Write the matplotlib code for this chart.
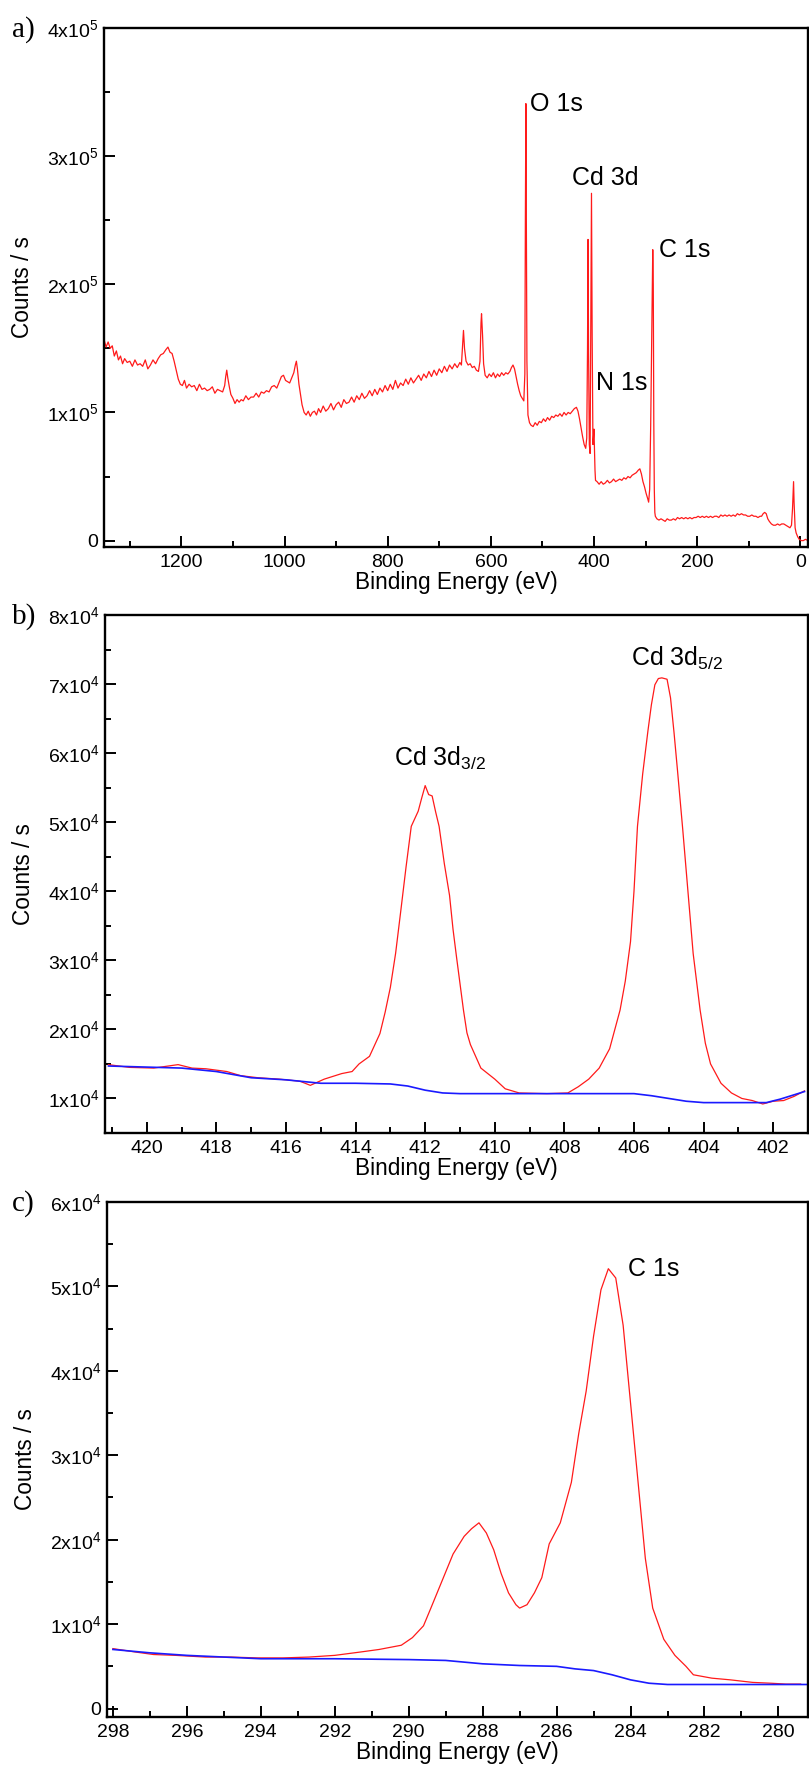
import matplotlib
matplotlib.use("Agg")
import matplotlib.pyplot as plt
from matplotlib.ticker import MultipleLocator, FuncFormatter

plt.rcParams['font.family'] = ['Liberation Sans', 'DejaVu Sans']
plt.rcParams['mathtext.fontset'] = 'custom'
plt.rcParams['mathtext.rm'] = 'Liberation Sans'
plt.rcParams['mathtext.it'] = 'Liberation Sans'
plt.rcParams['mathtext.bf'] = 'Liberation Sans'
plt.rcParams['mathtext.default'] = 'regular'

# ---------------- panel a: survey (binding energy eV, counts in 1e3) ----------------
survey_be = [1350, 1346, 1342, 1338, 1334, 1330, 1326, 1322, 1318, 1314, 1310, 1305, 1300, 1295, 1290,
             1285, 1280, 1275, 1270, 1265, 1260, 1255, 1250, 1245, 1240, 1235, 1230, 1226, 1222, 1218,
             1214, 1210, 1206, 1202, 1198, 1194, 1190, 1185, 1180, 1175, 1170, 1165, 1160, 1155, 1150,
             1145, 1140, 1135, 1130, 1125, 1120, 1116, 1114, 1112, 1110, 1107, 1104, 1100, 1096, 1092,
             1088, 1084, 1080, 1075, 1070, 1065, 1060, 1055, 1050, 1045, 1040, 1035, 1030, 1025, 1020,
             1015, 1010, 1006, 1002, 998, 994, 990, 986, 982, 979, 977, 975, 972, 969, 966,
             962, 958, 954, 950, 946, 942, 938, 934, 930, 925, 920, 915, 910, 905, 900,
             895, 890, 885, 880, 875, 870, 865, 860, 855, 850, 845, 840, 835, 830, 825,
             820, 815, 810, 805, 800, 795, 790, 785, 780, 775, 770, 765, 760, 755, 750,
             745, 740, 735, 730, 725, 720, 715, 710, 705, 700, 695, 690, 685, 680, 675,
             670, 665, 660, 657, 655, 653, 651, 648, 644, 640, 636, 632, 628, 624, 621,
             619, 618, 616, 614, 611, 607, 603, 599, 595, 591, 587, 583, 579, 575, 571,
             567, 563, 560, 557, 554, 551, 548, 545, 542, 539, 536, 534, 533, 532, 531,
             530, 528, 525, 522, 518, 514, 510, 506, 502, 498, 494, 490, 486, 482, 478,
             474, 470, 466, 462, 458, 454, 450, 446, 442, 438, 434, 431, 428, 425, 422,
             419, 416, 414, 412.5, 411.5, 410.5, 409, 407.5, 406, 404.8, 403.5, 402, 401, 400, 399,
             398, 397, 394, 390, 386, 382, 378, 374, 370, 366, 362, 358, 354, 350, 346,
             342, 338, 334, 330, 326, 322, 318, 314, 311, 308, 305, 302, 299, 296, 294,
             292, 290, 288, 286, 285, 284, 283, 282, 281, 278, 274, 270, 266, 262, 258,
             254, 250, 246, 242, 238, 234, 230, 226, 222, 218, 214, 210, 206, 202, 198,
             194, 190, 186, 182, 178, 174, 170, 166, 162, 158, 154, 150, 146, 142, 138,
             134, 130, 126, 122, 118, 114, 110, 106, 102, 98, 94, 90, 86, 82, 78,
             75, 72, 69, 66, 63, 60, 56, 52, 48, 44, 40, 36, 32, 28, 24,
             20, 17, 15, 13, 12, 10, 8, 5, 2, -2, -6, -10, -15]
survey_kcts = [157, 151, 155, 150, 152, 144, 148, 141, 144, 138, 142, 139, 140, 136, 141,
               137, 138, 136, 141, 134, 137, 141, 138, 142, 145, 146, 149, 151, 147, 146,
               140, 133, 126, 122, 121, 125, 119, 122, 120, 121, 117, 122, 118, 119, 117,
               118, 120, 115, 118, 117, 116, 121, 128, 133, 127, 120, 114, 111, 107, 110,
               108, 110, 109, 113, 110, 112, 112, 115, 112, 116, 115, 117, 116, 120, 121,
               119, 124, 128, 129, 125, 124, 123, 127, 131, 137, 140, 134, 122, 114, 106,
               100, 98, 101, 97, 100, 101, 98, 103, 100, 105, 101, 103, 107, 102, 106,
               108, 104, 110, 107, 108, 112, 108, 113, 110, 115, 111, 113, 117, 113, 118,
               114, 119, 116, 121, 117, 122, 118, 125, 119, 123, 121, 126, 122, 127, 123,
               126, 129, 125, 130, 127, 132, 128, 133, 129, 134, 131, 136, 132, 137, 134,
               138, 135, 139, 137, 150, 164, 150, 140, 137, 138, 135, 136, 133, 132, 140,
               170, 177, 160, 138, 129, 127, 130, 128, 131, 127, 130, 128, 131, 129, 131,
               130, 132, 135, 137, 134, 128, 122, 117, 113, 111, 109, 130, 250, 341, 250,
               140, 98, 92, 90, 89, 92, 90, 93, 92, 95, 93, 96, 94, 97, 96,
               98, 97, 99, 97, 100, 98, 100, 99, 101, 103, 104, 101, 95, 88, 81,
               75, 72, 80, 150, 235, 150, 75, 68, 180, 271, 160, 75, 80, 87, 70,
               55, 47, 46, 44, 46, 44, 45, 47, 45, 46, 48, 46, 47, 48, 47,
               49, 48, 50, 49, 51, 52, 53, 55, 56, 52, 46, 42, 37, 33, 30,
               40, 90, 160, 227, 200, 93, 40, 22, 19, 17, 16, 17, 16, 15, 17,
               16, 16, 17, 16, 18, 17, 18, 17, 18, 17, 18, 17, 18, 18, 19,
               18, 19, 18, 19, 18, 19, 18, 19, 19, 18, 20, 19, 20, 19, 20,
               19, 20, 19, 21, 20, 21, 20, 20, 19, 19, 20, 19, 19, 18, 19,
               19, 21, 22, 21, 17, 15, 13, 12, 12, 13, 12, 13, 13, 12, 11,
               10, 12, 25, 46, 30, 10, 6, 3, 1, 0, 0, 1, 0]

# ---------------- panel b: Cd 3d ----------------
cd_be = [421.1, 420.5, 419.8, 419.1, 418.7, 418.3, 417.7, 417.3, 416.8, 416.2, 415.6, 415.3, 414.9,
         414.4, 414.1, 413.9, 413.6, 413.3, 413.15, 413.0, 412.85, 412.7, 412.55, 412.4, 412.2, 412.1,
         412.0, 411.9, 411.8, 411.7, 411.6, 411.45, 411.3, 411.2, 411.1, 410.9, 410.8, 410.7, 410.4,
         410.0, 409.7, 409.3, 408.5, 407.9, 407.6, 407.3, 407.0, 406.7, 406.4, 406.25, 406.1, 406.0,
         405.9, 405.75, 405.6, 405.5, 405.4, 405.3, 405.2, 405.05, 404.95, 404.85, 404.75, 404.6,
         404.45, 404.3, 404.1, 403.95, 403.8, 403.5, 403.2, 402.9, 402.6, 402.3, 402.0, 401.7,
         401.4, 401.1]
cd_counts = [14900, 14500, 14400, 14900, 14400, 14300, 13900, 13300, 13000, 12800, 12500, 11900, 12800,
             13600, 13900, 15000, 16100, 19400, 22500, 26100, 31000, 37200, 43500, 49400, 51600, 53500,
             55300, 54000, 53800, 51500, 49400, 44000, 39400, 34500, 30500, 22800, 19500, 17800, 14400,
             12800, 11400, 10800, 10700, 10800, 11700, 12800, 14400, 17200, 22800, 27000, 32700, 40000,
             49400, 57000, 63200, 67000, 69900, 70800, 70900, 70700, 68000, 63000, 57500, 49000,
             40000, 31000, 22800, 18000, 15000, 12200, 10800, 10000, 9700, 9200, 9600, 9700,
             10300, 11100]
cd_bg_be = [421.1, 419.0, 418.0, 417.0, 416.0, 415.0, 414.0, 413.0, 412.5, 412.0, 411.5, 411.0, 410.0,
            408.0, 406.0, 405.5, 405.0, 404.5, 404.0, 403.0, 402.2, 401.8, 401.1]
cd_bg_counts = [14700, 14400, 13900, 13000, 12700, 12200, 12200, 12100, 11800, 11200, 10800, 10700, 10700,
                10700, 10700, 10400, 10000, 9600, 9400, 9400, 9400, 9900, 11000]

# ---------------- panel c: C 1s ----------------
c_be = [298.0, 297.4, 296.9, 296.3, 295.5, 294.8, 294.1, 293.4, 292.7, 292.0, 291.3, 290.8, 290.2,
        289.9, 289.6, 289.4, 289.1, 288.8, 288.5, 288.3, 288.1, 287.9, 287.7, 287.5, 287.3, 287.1,
        287.0, 286.8, 286.6, 286.4, 286.2, 285.9, 285.6, 285.4, 285.2, 285.0, 284.8, 284.6, 284.4,
        284.2, 284.0, 283.8, 283.6, 283.4, 283.1, 282.8, 282.5, 282.3, 281.8, 281.3, 280.7, 280.2,
        279.8, 279.4]
c_counts = [7100, 6700, 6400, 6300, 6100, 6100, 6000, 6000, 6100, 6300, 6700, 7000, 7500,
            8400, 9800, 11900, 15100, 18300, 20400, 21300, 22000, 20800, 18800, 16000, 13700, 12300,
            11900, 12300, 13700, 15500, 19500, 22000, 26800, 32600, 37600, 44100, 49600, 52100, 51000,
            45400, 36200, 27000, 17800, 11900, 8200, 6300, 5000, 4000, 3600, 3400, 3100, 3000,
            2900, 2900]
c_bg_be = [298.0, 297.0, 296.0, 295.0, 294.0, 292.0, 290.0, 289.0, 288.0, 287.0, 286.0, 285.5, 285.0,
           284.5, 284.0, 283.5, 283.0, 281.0, 279.2]
c_bg_counts = [7000, 6600, 6300, 6100, 5900, 5900, 5800, 5700, 5300, 5100, 5000, 4700, 4500,
               4000, 3400, 3000, 2850, 2850, 2850]

RED = '#ff1a1a'
BLUE = '#1a1aff'
ANN = 18

W, H = 809, 1771
fig = plt.figure(figsize=(W / 100, H / 100), dpi=100)


def make_ax(left_px, top_px, bottom_px, right_px=808):
    return fig.add_axes([left_px / W, 1 - bottom_px / H, (right_px - left_px) / W, (bottom_px - top_px) / H])


def fmt_factory(exp):
    def f(v, pos):
        m = int(round(v / 10 ** exp))
        if m == 0:
            return '0'
        return f'{m}x10$^{{{exp}}}$'
    return FuncFormatter(f)


def style(ax, xmaj, xmin, ymaj, ymin, exp):
    for s in ax.spines.values():
        s.set_linewidth(1.7)
    ax.xaxis.set_major_locator(MultipleLocator(xmaj))
    ax.xaxis.set_minor_locator(MultipleLocator(xmin))
    ax.yaxis.set_major_locator(MultipleLocator(ymaj))
    ax.yaxis.set_minor_locator(MultipleLocator(ymin))
    ax.yaxis.set_major_formatter(fmt_factory(exp))
    ax.tick_params(which='major', direction='in', length=8, width=1.4, labelsize=14, pad=5,
                   top=False, right=False)
    ax.tick_params(which='minor', direction='in', length=4, width=1.4, top=False, right=False)
    ax.tick_params(axis='y', which='major', pad=4)
    ax.set_xlabel('Binding Energy (eV)', fontsize=16.3, labelpad=0)
    ax.set_ylabel('Counts / s', fontsize=16.3)
    ax.yaxis.set_label_coords(-0.1, 0.5)


# panel a
axa = make_ax(104, 28, 547)
axa.plot(survey_be, [k * 1000 for k in survey_kcts], color=RED, lw=0.9)
axa.set_xlim(1350, -15)
axa.set_ylim(-5000, 4e5)
style(axa, 200, 100, 1e5, 5e4, 5)
axa.text(524, 3.41e5, 'O 1s', fontsize=ANN, va='center', ha='left')
axa.text(443, 2.83e5, 'Cd 3d', fontsize=ANN, va='center', ha='left')
axa.text(274, 2.27e5, 'C 1s', fontsize=ANN, va='center', ha='left')
axa.text(396, 1.23e5, 'N 1s', fontsize=ANN, va='center', ha='left')

# panel b
axb = make_ax(105, 615, 1133)
axb.plot(cd_be, cd_counts, color=RED, lw=0.9)
axb.plot(cd_bg_be, cd_bg_counts, color=BLUE, lw=1.2)
axb.set_xlim(421.2, 401.0)
axb.set_ylim(5000, 8e4)
style(axb, 2, 1, 1e4, 5e3, 4)
axb.text(412.9, 5.93e4, 'Cd 3d$_{3/2}$', fontsize=ANN, va='center', ha='left')
axb.text(406.1, 7.37e4, 'Cd 3d$_{5/2}$', fontsize=ANN, va='center', ha='left')

# panel c
axc = make_ax(107, 1202, 1717)
axc.plot(c_be, c_counts, color=RED, lw=0.9)
axc.plot(c_bg_be, c_bg_counts, color=BLUE, lw=1.2)
axc.set_xlim(298.16, 279.2)
axc.set_ylim(-1000, 6e4)
style(axc, 2, 1, 1e4, 5e3, 4)
axc.text(284.07, 5.21e4, 'C 1s', fontsize=ANN, va='center', ha='left')

# panel letters
for lab, ypx in (('a)', 30), ('b)', 617), ('c)', 1204)):
    fig.text(12 / W, 1 - ypx / H, lab, fontsize=21, family='Liberation Serif', va='center', ha='left')

fig.savefig('out.png', dpi=100)
